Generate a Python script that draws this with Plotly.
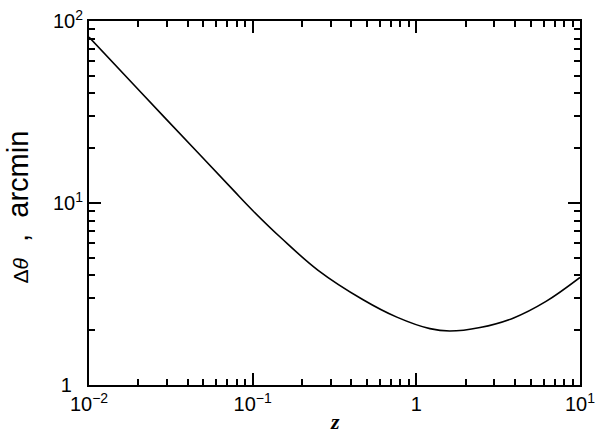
import plotly.graph_objects as go

# Data
z_values = [0.01, 0.02, 0.0476, 0.0759, 0.1, 0.15, 0.25,
            0.47, 0.76, 1.21, 1.6, 2.45, 3.9, 6.2, 10]
dtheta_arcmin = [81.5, 42.0, 18.4, 11.8, 9.1, 6.4, 4.28,
                 2.95, 2.36, 2.04, 1.98, 2.07, 2.33, 2.88, 3.9]

x_tickvals = [0.01, 0.1, 1, 10]
x_ticktext = ["10<sup>\u22122</sup>", "10<sup>\u22121</sup>", "1", "10<sup>1</sup>"]
y_tickvals = [1, 10, 100]
y_ticktext = ["1\u00a0\u00a0", "10<sup>1</sup>", "10<sup>2</sup>"]

x_title = "<b><i>z</i></b>"
y_title = ('<span style="font-size:21px">\u0394<i>\u03b8</i></span>'
           '\u00a0\u00a0,\u00a0\u00a0arcmin')

fig = go.Figure()
fig.add_trace(go.Scatter(
    x=z_values, y=dtheta_arcmin, mode="lines",
    line=dict(color="black", width=1.6, shape="spline", smoothing=1.0),
    showlegend=False,
))

axis_common = dict(
    type="log",
    automargin=False,
    showgrid=False,
    zeroline=False,
    showline=True,
    linecolor="black",
    linewidth=2,
    mirror="allticks",
    ticks="inside",
    ticklen=12,
    tickwidth=1.5,
    tickcolor="black",
    ticklabeloverflow="allow",
    tickfont=dict(family="Liberation Sans, Arial, sans-serif", size=20, color="black"),
    minor=dict(ticks="inside", dtick="D1", ticklen=6, tickwidth=1.5,
               tickcolor="black", showgrid=False),
)

fig.update_layout(
    width=600, height=435,
    margin=dict(l=89, r=20, t=21, b=50),
    paper_bgcolor="white",
    plot_bgcolor="white",
    xaxis=dict(
        **axis_common,
        range=[-2, 1],
        tickmode="array", tickvals=x_tickvals, ticktext=x_ticktext,
    ),
    yaxis=dict(
        **axis_common,
        range=[0, 2],
        tickmode="array", tickvals=y_tickvals, ticktext=y_ticktext,
    ),
    annotations=[
        dict(text=x_title, xref="paper", yref="paper", x=0.5, y=-0.099,
             xanchor="center", yanchor="middle", showarrow=False,
             font=dict(family="Liberation Serif, Times New Roman, serif", size=22, color="black")),
        dict(text=y_title, xref="paper", yref="paper", x=-0.145, y=0.49,
             xanchor="center", yanchor="middle", showarrow=False, textangle=-90,
             font=dict(family="Liberation Sans, Arial, sans-serif", size=29, color="black")),
    ],
)

fig.write_html("out.html", config={"displayModeBar": False},
               post_script="document.body.style.margin='0';")
